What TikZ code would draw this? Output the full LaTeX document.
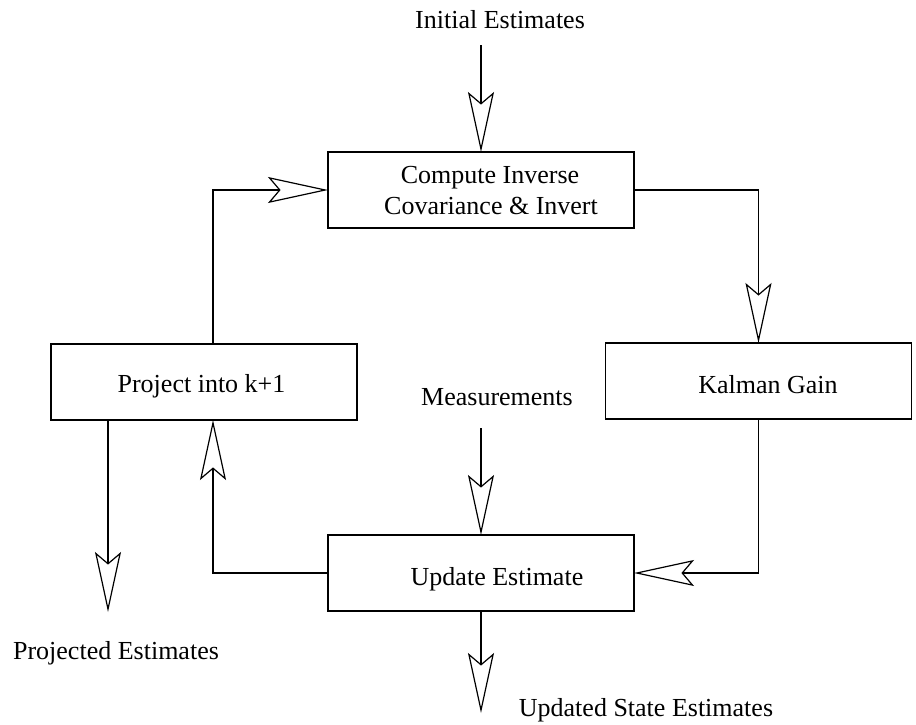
\documentclass[tikz,border=0pt]{standalone}
\usepackage{fontspec}
\setmainfont{Liberation Serif}
\usetikzlibrary{arrows.meta}
\begin{document}
\begin{tikzpicture}[x=1pt,y=-1pt,
  box/.style={draw, line width=1.2pt, rectangle, minimum width=306pt,
    minimum height=76pt, inner sep=0pt, outer sep=0pt},
  lbl/.style={anchor=base, inner sep=0pt, font=\fontsize{26}{31}\selectfont},
  flow/.style={line width=1.2pt,
    -{Stealth[open, length=60pt, width=26pt, inset=11pt]}},
  link/.style={line width=1.2pt}]
\useasboundingbox (0,0) rectangle (916,724);

% process blocks
\node[box] (comp) at (481,190) {};
\node[box] (proj) at (204,382) {};
\node[box] (kal)  at (758.5,381) {};
\node[box] (upd)  at (481,573) {};

% block captions
\node[lbl] (compA) at (490,183) {Compute Inverse};
\node[lbl] (compB) at (491,214) {Covariance \& Invert};
\node[lbl] (projT) at (201.5,392) {Project into k+1};
\node[lbl] (kalT)  at (768,393) {Kalman Gain};
\node[lbl] (updT)  at (497,585) {Update Estimate};

% inputs and outputs
\node[lbl] (init)  at (500,28)  {Initial Estimates};
\node[lbl] (meas)  at (497,405) {Measurements};
\node[lbl] (projE) at (116,659) {Projected Estimates};
\node[lbl] (updE)  at (646,716) {Updated State Estimates};

\coordinate (initS) at (481,45);
\coordinate (measS) at (481,428);
\coordinate (projO) at (108,612);
\coordinate (updO)  at (481,713);

% signal flow
\draw[flow] (initS) -- (comp.north);
\draw[flow] (comp.east) -| (kal.north);
\draw[flow] (kal.south) |- (upd.east);
\draw[flow] (upd.west) -| ([xshift=9pt]proj.south);
\draw[flow] ([xshift=9pt]proj.north) |- (comp.west);
\draw[flow] (measS) -- (upd.north);
\draw[flow] (upd.south) -- (updO);
\draw[flow] ([xshift=-96pt]proj.south) -- (projO);
\end{tikzpicture}
\end{document}
